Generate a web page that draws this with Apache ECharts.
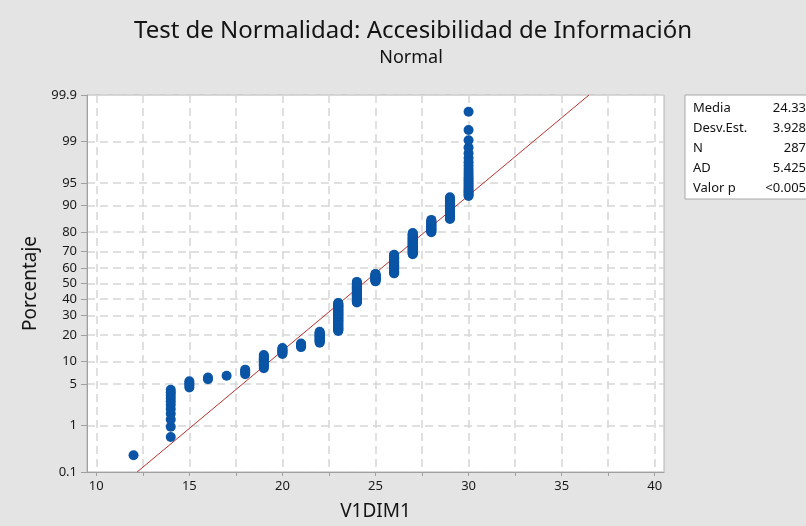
<!DOCTYPE html>
<html>
<head>
<meta charset="utf-8">
<script src="https://cdn.jsdelivr.net/npm/echarts@6/dist/echarts.min.js"></script>
<style>
  html, body { margin: 0; padding: 0; background: #e4e4e4; }
  #chart { width: 806px; height: 526px; }
</style>
</head>
<body>
<div id="chart"></div>
<script>
// valores de V1DIM1 y cuantas observaciones tiene cada uno
const xValues = [12, 14, 15, 16, 17, 18, 19, 20, 21, 22, 23, 24, 25, 26, 27, 28, 29, 30]
const xCounts = [1, 11, 4, 2, 1, 4, 12, 7, 5, 15, 46, 39, 15, 34, 33, 16, 20, 22]

// marcas de los ejes
const yTickPercents = [0.1, 1, 5, 10, 20, 30, 40, 50, 60, 70, 80, 90, 95, 99, 99.9]
const yTickLabels = ['0.1', '1', '5', '10', '20', '30', '40', '50', '60', '70', '80', '90', '95', '99', '99.9']
const xGridValues = [10, 12.5, 15, 17.5, 20, 22.5, 25, 27.5, 30, 32.5, 35, 37.5, 40]
const xLabelValues = [10, 15, 20, 25, 30, 35, 40]

// cuadro de estadisticos
const statLabels = ['Media', 'Desv.Est.', 'N', 'AD', 'Valor p']
const statValues = ['24.33', '3.928', '287', '5.425', '<0.005']
const mean = 24.33
const stdDev = 3.928

const FONT = 'Noto Sans'

// inversa de la normal (Acklam) para la escala de probabilidad
function probit(p) {
  const a = [-3.969683028665376e+01, 2.209460984245205e+02, -2.759285104469687e+02, 1.383577518672690e+02, -3.066479806614716e+01, 2.506628277459239e+00]
  const b = [-5.447609879822406e+01, 1.615858368580409e+02, -1.556989798598866e+02, 6.680131188771972e+01, -1.328068155288572e+01]
  const c = [-7.784894002430293e-03, -3.223964580411365e-01, -2.400758277161838e+00, -2.549732539343734e+00, 4.374664141464968e+00, 2.938163982698783e+00]
  const d = [7.784695709041462e-03, 3.224671290700398e-01, 2.445134137142996e+00, 3.754408661907416e+00]
  const pl = 0.02425
  let q, r
  if (p < pl) {
    q = Math.sqrt(-2 * Math.log(p))
    return (((((c[0] * q + c[1]) * q + c[2]) * q + c[3]) * q + c[4]) * q + c[5]) / ((((d[0] * q + d[1]) * q + d[2]) * q + d[3]) * q + 1)
  }
  if (p <= 1 - pl) {
    q = p - 0.5
    r = q * q
    return (((((a[0] * r + a[1]) * r + a[2]) * r + a[3]) * r + a[4]) * r + a[5]) * q / (((((b[0] * r + b[1]) * r + b[2]) * r + b[3]) * r + b[4]) * r + 1)
  }
  q = Math.sqrt(-2 * Math.log(1 - p))
  return -(((((c[0] * q + c[1]) * q + c[2]) * q + c[3]) * q + c[4]) * q + c[5]) / ((((d[0] * q + d[1]) * q + d[2]) * q + d[3]) * q + 1)
}

const yTickValues = yTickPercents.map(p => probit(p / 100))
const yMin = yTickValues[0]
const yMax = yTickValues[yTickValues.length - 1]

// posiciones de graficado (i - 0.3) / (n + 0.4)
const n = xCounts.reduce((s, v) => s + v, 0)
const points = []
let rank = 0
xValues.forEach((x, k) => {
  for (let j = 0; j < xCounts[k]; j++) {
    rank++
    points.push([x, probit((rank - 0.3) / (n + 0.4))])
  }
})

// recta ajustada de la normal
const fitLine = [
  [mean + yMin * stdDev, yMin],
  [mean + yMax * stdDev, yMax]
]

const statGraphics = []
statLabels.forEach((label, i) => {
  const y = 108 + i * 20
  statGraphics.push({
    type: 'text', x: 693, y: y,
    style: { text: label, fontSize: 13, fontFamily: FONT, fill: '#111', align: 'left', verticalAlign: 'middle' }
  })
  statGraphics.push({
    type: 'text', x: 806, y: y,
    style: { text: statValues[i], fontSize: 13, fontFamily: FONT, fill: '#111', align: 'right', verticalAlign: 'middle' }
  })
})

const myChart = echarts.init(document.getElementById('chart'))
myChart.setOption({
  backgroundColor: '#e4e4e4',
  animation: false,
  textStyle: { fontFamily: FONT },
  grid: {
    left: 87, right: 142, top: 95, bottom: 53,
    show: true, backgroundColor: '#ffffff', borderColor: '#b4b4b4', borderWidth: 1
  },
  graphic: [
    {
      type: 'text', x: 413, y: 31,
      style: { text: 'Test de Normalidad: Accesibilidad de Información', fontSize: 24, fontFamily: FONT, fill: '#141414', align: 'center', verticalAlign: 'middle' }
    },
    {
      type: 'text', x: 411, y: 58,
      style: { text: 'Normal', fontSize: 18, fontFamily: FONT, fill: '#141414', align: 'center', verticalAlign: 'middle' }
    },
    {
      type: 'rect', shape: { x: 685, y: 95, width: 130, height: 104 },
      style: { fill: '#ffffff', stroke: '#a8a8a8', lineWidth: 1 }
    },
    ...statGraphics
  ],
  xAxis: {
    type: 'value',
    min: 9.5,
    max: 40.5,
    name: 'V1DIM1',
    nameLocation: 'middle',
    nameGap: 30,
    nameTextStyle: { fontSize: 19, color: '#141414' },
    axisLine: { onZero: false, lineStyle: { color: '#a0a0a0' } },
    axisTick: { customValues: xGridValues, length: 4, lineStyle: { color: '#a0a0a0' } },
    axisLabel: {
      customValues: xLabelValues,
      fontSize: 13, color: '#1a1a1a', margin: 8
    },
    splitLine: { show: true, lineStyle: { color: '#d6d6d6', type: [8, 5], width: 1.5 } }
  },
  yAxis: {
    type: 'value',
    min: yMin,
    max: yMax,
    name: 'Porcentaje',
    nameLocation: 'middle',
    nameGap: 45,
    nameTextStyle: { fontSize: 19, color: '#141414' },
    axisLine: { show: true, onZero: false, lineStyle: { color: '#a0a0a0' } },
    axisTick: { show: true, customValues: yTickValues, length: 6, lineStyle: { color: '#a0a0a0' } },
    axisLabel: {
      customValues: yTickValues,
      fontSize: 13, color: '#1a1a1a', margin: 10,
      formatter: function (v) {
        for (let i = 0; i < yTickValues.length; i++) {
          if (Math.abs(yTickValues[i] - v) < 1e-9) return yTickLabels[i]
        }
        return ''
      }
    },
    splitLine: { show: true, lineStyle: { color: '#d6d6d6', type: [8, 5], width: 1.5 } }
  },
  series: [
    {
      type: 'line',
      data: fitLine,
      symbol: 'none',
      lineStyle: { color: '#b8312f', width: 1 },
      z: 2
    },
    {
      type: 'scatter',
      data: points,
      symbol: 'circle',
      symbolSize: 10,
      itemStyle: { color: '#0a55a5', opacity: 1 },
      z: 3
    }
  ]
})
</script>
</body>
</html>
